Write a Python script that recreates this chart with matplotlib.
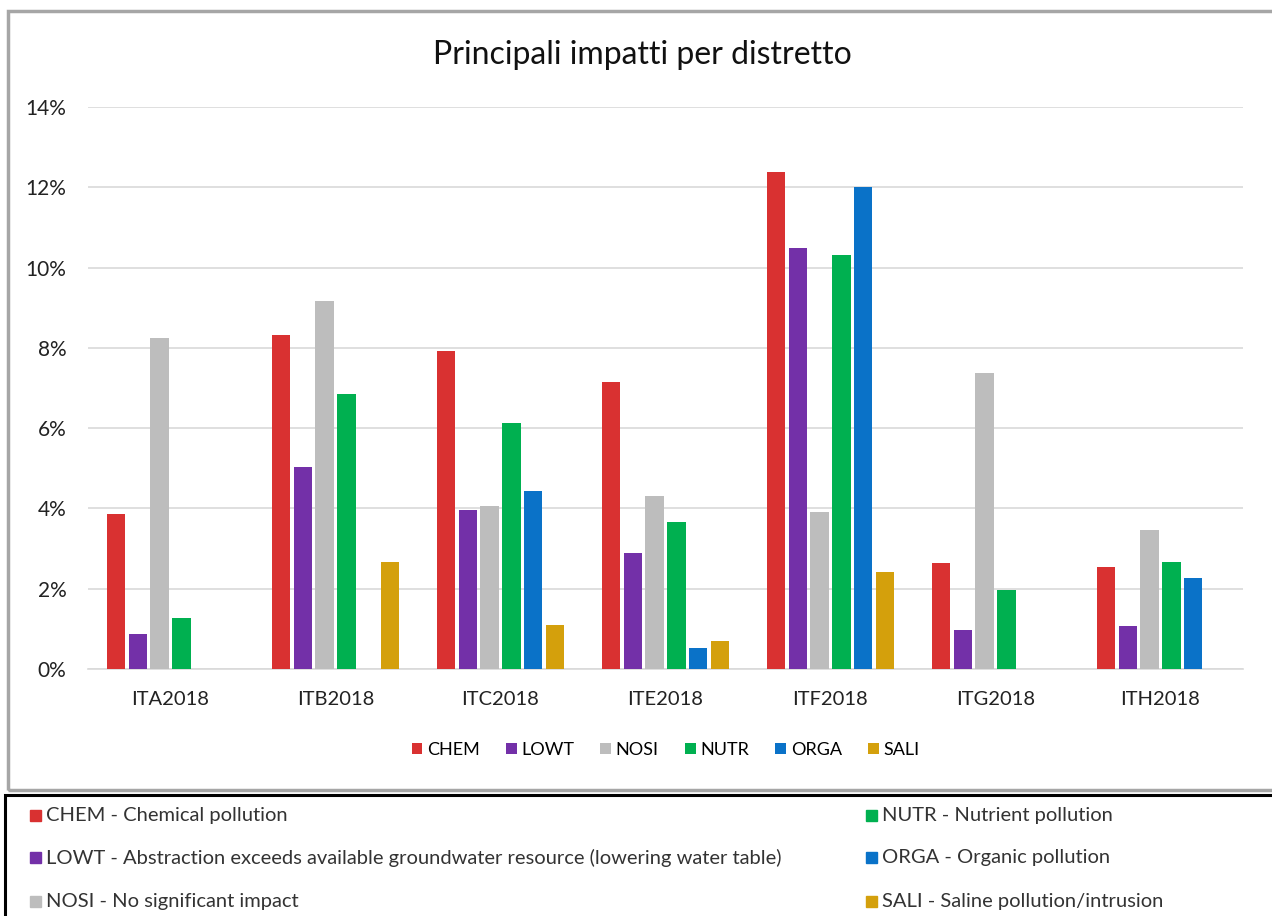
import matplotlib
matplotlib.use("Agg")
import matplotlib.pyplot as plt
import numpy as np
from matplotlib.patches import Rectangle
from matplotlib.ticker import FuncFormatter

districts = ["ITA2018", "ITB2018", "ITC2018", "ITE2018", "ITF2018", "ITG2018", "ITH2018"]
codes = ["CHEM", "LOWT", "NOSI", "NUTR", "ORGA", "SALI"]
descriptions = [
    "CHEM - Chemical pollution",
    "LOWT - Abstraction exceeds available groundwater resource (lowering water table)",
    "NOSI - No significant impact",
    "NUTR - Nutrient pollution",
    "ORGA - Organic pollution",
    "SALI - Saline pollution/intrusion",
]
colors = ["#D93131", "#7330A8", "#BDBDBD", "#00B050", "#0A72C8", "#D4A00C"]

# percentages per district (NaN = no bar)
chem = [3.85, 8.33, 7.93, 7.15, 12.38, 2.65, 2.55]
lowt = [0.86, 5.04, 3.95, 2.88, 10.49, 0.97, 1.07]
nosi = [8.24, 9.16, 4.06, 4.30, 3.90, 7.37, 3.47]
nutr = [1.28, 6.85, 6.13, 3.67, 10.31, 1.96, 2.67]
orga = [np.nan, np.nan, 4.44, 0.52, 12.0, np.nan, 2.27]
sali = [np.nan, 2.66, 1.10, 0.70, 2.42, np.nan, np.nan]
series = [chem, lowt, nosi, nutr, orga, sali]

W, H = 1272, 916
fig = plt.figure(figsize=(W / 100, H / 100), dpi=100)
plt.rcParams["font.family"] = ["Lato", "DejaVu Sans"]


def fx(x):
    return x / W


def fy(y):
    return 1 - y / H


# outer chart frame (open on the right) and bottom legend box
fig.patches.append(Rectangle((fx(8), fy(790)), fx(1290) - fx(8), fy(11) - fy(790),
                             transform=fig.transFigure, fill=False,
                             edgecolor="#A6A6A6", linewidth=2.5))
fig.patches.append(Rectangle((fx(5), fy(925)), fx(1290) - fx(5), fy(795) - fy(925),
                             transform=fig.transFigure, fill=False,
                             edgecolor="black", linewidth=2.2))

left, right, top, bottom = 88, 1243, 107, 669
ax = fig.add_axes([fx(left), fy(bottom), fx(right) - fx(left), fy(top) - fy(bottom)])

x = np.arange(len(districts))
pitch = 0.133
width = 0.11
for i, (vals, c) in enumerate(zip(series, colors)):
    v = np.array(vals) / 100
    ax.bar(x + (i - 2.5) * pitch, v, width, color=c, label=codes[i], zorder=3)

ax.set_xlim(-0.5, len(districts) - 0.5)
ax.set_ylim(0, 0.14)
ax.set_yticks(np.arange(0, 0.141, 0.02))
ax.yaxis.set_major_formatter(FuncFormatter(lambda v, p: f"{v*100:.0f}%"))
ax.set_xticks(x)
ax.set_xticklabels(districts)
ax.grid(axis="y", color="#D9D9D9", linewidth=1.2, zorder=0)
for s in ["top", "right", "left"]:
    ax.spines[s].set_visible(False)
ax.spines["bottom"].set_color("#D9D9D9")
ax.spines["bottom"].set_linewidth(1.2)
ax.tick_params(axis="both", length=0, colors="#222222")
ax.tick_params(axis="y", pad=15.5, labelsize=15)
ax.tick_params(axis="x", pad=16, labelsize=14.5)

fig.text(0.505, fy(55), "Principali impatti per distretto", ha="center", va="center",
         fontsize=23, color="#111111")

ax.legend(loc="center", bbox_to_anchor=(0.5, (bottom - 750) / (bottom - top)), ncol=6,
          frameon=False, fontsize=13, handlelength=0.6, handleheight=0.6,
          handletextpad=0.25, columnspacing=1.45)

# bottom description legend
rows = [816, 858, 902]
for k, (txt, c) in enumerate(zip(descriptions, colors)):
    col = k // 3
    r = rows[k % 3]
    xs = 30 if col == 0 else 866
    fig.patches.append(Rectangle((fx(xs), fy(r + 5)), fx(11), 11 / H,
                                 transform=fig.transFigure, color=c))
    fig.text(fx(xs + 16), fy(r), txt, ha="left", va="center", fontsize=14.5,
             color="#333333")

fig.savefig("out.png", dpi=100)
